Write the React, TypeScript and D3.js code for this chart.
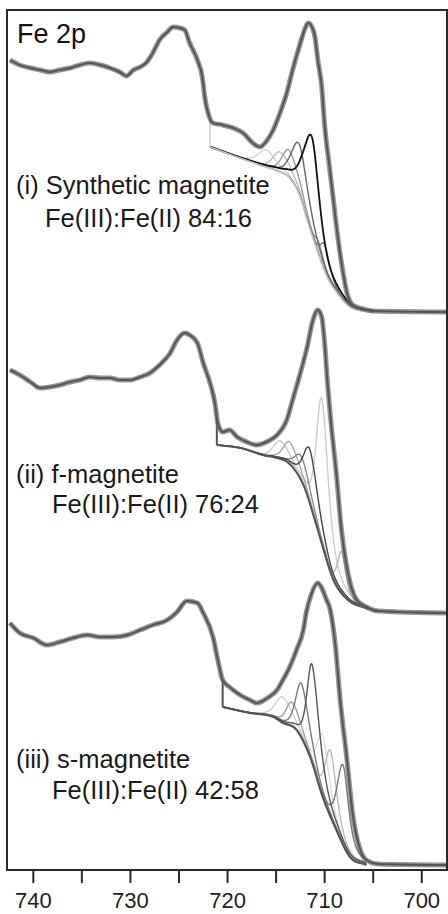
import React from 'react';
import * as d3 from 'd3';

// ---- axis ----
const energyTicks = [740, 730, 720, 710, 700];
const minorTicks = [735, 725, 715, 705];
const energyDomain = [742.71, 697.4];
const intensityDomain = [0, 860];

// ---- labels ----
const panelTitle = 'Fe 2p';
const sampleNames = ['(i) Synthetic magnetite', '(ii) f-magnetite', '(iii) s-magnetite'];
const ratioLabels = ['Fe(III):Fe(II) 84:16', 'Fe(III):Fe(II) 76:24', 'Fe(III):Fe(II) 42:58'];

// ---- measured spectra [binding energy eV, intensity a.u.] ----
const spectrumI: [number, number][] = [
  [742.4, 810], [741.4, 805], [740.3, 802], [739.3, 800], [738.3, 798], [737.3, 800],
  [736.2, 802], [735.2, 805], [734.2, 807], [733.1, 805], [732.1, 802], [731.1, 798],
  [730.4, 794], [729.7, 800], [729.0, 803], [728.3, 808], [727.7, 817], [727.0, 830],
  [726.2, 838], [725.6, 843], [724.9, 842], [724.4, 840], [723.9, 827], [723.1, 810],
  [722.6, 793], [722.3, 770], [722.0, 757], [721.5, 747], [720.5, 745], [719.4, 742],
  [718.4, 737], [717.4, 727], [716.7, 723], [715.9, 730], [715.3, 740], [714.6, 757],
  [713.9, 777], [713.3, 800], [712.5, 827], [712.0, 842], [711.7, 847], [711.3, 843],
  [711.0, 833], [710.7, 810], [710.3, 783], [710.0, 745], [709.5, 703], [709.1, 670],
  [708.7, 637], [708.2, 603], [707.7, 577], [707.1, 565], [706.0, 561], [705.0, 559],
  [697.4, 558],
];
const spectrumII: [number, number][] = [
  [742.4, 500], [741.4, 495], [740.3, 488], [739.3, 482], [738.3, 483], [737.3, 485],
  [736.2, 488], [735.2, 490], [734.2, 493], [733.1, 492], [732.1, 492], [731.1, 490],
  [730.0, 490], [729.0, 493], [728.0, 497], [727.0, 505], [725.9, 517], [725.2, 530],
  [724.4, 537], [723.9, 535], [723.1, 527], [722.5, 507], [721.8, 487], [721.3, 467],
  [721.0, 447], [720.5, 438], [719.8, 440], [719.0, 433], [718.0, 428], [717.0, 425],
  [716.0, 428], [714.9, 435], [713.9, 450], [713.3, 470], [712.5, 497], [711.8, 523],
  [711.2, 550], [710.7, 560], [710.3, 553], [710.0, 527], [709.7, 487], [709.3, 443],
  [708.8, 397], [708.3, 343], [707.6, 297], [706.7, 270], [705.7, 263], [704.5, 259],
  [697.4, 257],
];
const spectrumIII: [number, number][] = [
  [742.4, 247], [741.4, 237], [740.0, 232], [738.6, 225], [737.3, 228], [735.9, 232],
  [734.5, 235], [733.1, 233], [731.8, 233], [730.3, 235], [729.0, 240], [727.7, 245],
  [726.2, 250], [725.2, 258], [724.2, 269], [723.1, 267], [722.5, 257], [721.5, 233],
  [721.0, 210], [720.5, 190], [719.8, 183], [718.7, 175], [717.7, 170], [717.0, 167],
  [715.9, 172], [714.9, 180], [714.3, 190], [713.6, 203], [712.9, 220], [712.2, 240],
  [711.9, 257], [711.4, 275], [710.7, 287], [710.3, 282], [709.8, 270], [709.5, 263],
  [708.9, 225], [708.4, 170], [707.7, 110], [707.1, 55], [706.4, 22], [705.7, 10],
  [704.5, 6], [697.4, 5],
];

// ---- Shirley backgrounds [eV, intensity] ----
const backgroundI: [number, number][] = [
  [721.8, 723], [718.7, 712], [716.65, 705], [714.6, 698], [713.6, 692], [712.5, 673],
  [711.8, 650], [710.8, 620], [709.75, 593], [708.4, 573], [707.4, 563], [706.2, 559],
  [705.0, 558],
];
const backgroundII: [number, number][] = [
  [721.1, 425], [718.7, 422], [716.0, 414], [715.3, 413], [713.5, 405], [712.1, 383],
  [711.1, 353], [710.1, 320], [709.1, 290], [707.6, 270], [705.5, 261],
];
const backgroundIII: [number, number][] = [
  [720.5, 163], [718.7, 159], [717.7, 157], [715.3, 153], [714.3, 147], [712.9, 140],
  [711.5, 113], [710.2, 73], [708.8, 40], [707.4, 13], [705.7, 5],
];

// ---- fitted components: centre (eV), height, FWHM high-BE side, FWHM low-BE side, shade ----
const peakCentresI = [716.0, 714.6, 713.7, 712.6, 711.3, 710.6, 710.0];
const peakHeightsI = [17, 20, 27, 50, 98, 13, 27];
const peakWidthLI = [2.0, 1.7, 1.6, 1.8, 2.0, 1.0, 1.0];
const peakWidthRI = [2.2, 2.4, 2.4, 2.2, 1.8, 1.3, 1.3];
const peakShadeI = ['#d4d4d4', '#bdbdbd', '#9a9a9a', '#666666', '#111111', '#8a8a8a', '#777777'];

const peakCentresII = [714.6, 713.6, 712.4, 711.5, 710.3, 708.25];
const peakHeightsII = [18, 22, 24, 54, 145, 42];
const peakWidthLII = [1.6, 1.5, 1.5, 1.5, 1.3, 1.0];
const peakWidthRII = [2.2, 2.2, 2.2, 2.0, 1.6, 1.0];
const peakShadeII = ['#cccccc', '#a8a8a8', '#888888', '#444444', '#cdcdcd', '#b8b8b8'];

const peakCentresIII = [714.3, 713.4, 712.4, 711.3, 710.2, 709.4, 708.1];
const peakHeightsIII = [26, 24, 54, 98, 62, 66, 80];
const peakWidthLIII = [1.7, 1.4, 1.3, 1.2, 1.3, 1.3, 1.4];
const peakWidthRIII = [2.0, 2.0, 1.9, 1.8, 1.6, 1.5, 1.4];
const peakShadeIII = ['#d0d0d0', '#a0a0a0', '#7a7a7a', '#555555', '#dddddd', '#bbbbbb', '#777777'];

// ---------------------------------------------------------------
function makeMonotone(pts: [number, number][]) {
  const p = [...pts].sort((a, b) => a[0] - b[0]);
  const n = p.length;
  const xs = p.map((d) => d[0]);
  const ys = p.map((d) => d[1]);
  const dx: number[] = [];
  const m: number[] = [];
  for (let i = 0; i < n - 1; i++) {
    dx[i] = xs[i + 1] - xs[i];
    m[i] = (ys[i + 1] - ys[i]) / dx[i];
  }
  const t: number[] = new Array(n);
  t[0] = m[0];
  t[n - 1] = m[n - 2];
  for (let i = 1; i < n - 1; i++) t[i] = m[i - 1] * m[i] <= 0 ? 0 : (m[i - 1] + m[i]) / 2;
  for (let i = 0; i < n - 1; i++) {
    if (m[i] === 0) { t[i] = 0; t[i + 1] = 0; continue; }
    const a = t[i] / m[i];
    const b = t[i + 1] / m[i];
    const s = a * a + b * b;
    if (s > 9) {
      const tau = 3 / Math.sqrt(s);
      t[i] = tau * a * m[i];
      t[i + 1] = tau * b * m[i];
    }
  }
  return (x: number) => {
    if (x <= xs[0]) return ys[0];
    if (x >= xs[n - 1]) return ys[n - 1];
    let i = 0;
    while (i < n - 2 && x > xs[i + 1]) i++;
    const h = dx[i];
    const s = (x - xs[i]) / h;
    const s2 = s * s, s3 = s2 * s;
    return (2 * s3 - 3 * s2 + 1) * ys[i] + (s3 - 2 * s2 + s) * h * t[i] +
      (-2 * s3 + 3 * s2) * ys[i + 1] + (s3 - s2) * h * t[i + 1];
  };
}

// asymmetric Gaussian–Lorentzian line shape, tailing toward low binding energy
function peakShape(e: number, c: number, h: number, wl: number, wr: number) {
  const high = e >= c;
  const w = high ? wl : wr;
  const d = (e - c) / w;
  const mix = high ? 0.45 : 0.75;
  return h * ((1 - mix) * Math.exp(-4 * Math.LN2 * d * d) + mix / (1 + 4 * d * d));
}

type Spec = {
  data: [number, number][];
  bg: [number, number][];
  c: number[]; h: number[]; wl: number[]; wr: number[]; shade: string[];
  bgColor: string; bgWidth: number;
};

const spectra: Spec[] = [
  { data: spectrumI, bg: backgroundI, c: peakCentresI, h: peakHeightsI, wl: peakWidthLI, wr: peakWidthRI, shade: peakShadeI, bgColor: '#c6c6c6', bgWidth: 1.4 },
  { data: spectrumII, bg: backgroundII, c: peakCentresII, h: peakHeightsII, wl: peakWidthLII, wr: peakWidthRII, shade: peakShadeII, bgColor: '#555555', bgWidth: 2 },
  { data: spectrumIII, bg: backgroundIII, c: peakCentresIII, h: peakHeightsIII, wl: peakWidthLIII, wr: peakWidthRIII, shade: peakShadeIII, bgColor: '#555555', bgWidth: 2 },
];

const labelPos = [
  { x1: 16, y1: 194, x2: 45, y2: 227 },
  { x1: 16, y1: 483, x2: 52, y2: 513 },
  { x1: 16, y1: 768, x2: 52, y2: 799 },
];

export default function App() {
  const W = 448, H = 914;
  const left = 7, top = 10, right = 447, bottom = 870;
  const x = d3.scaleLinear().domain(energyDomain).range([left, right]);
  const y = d3.scaleLinear().domain(intensityDomain).range([bottom, top]);
  const line = d3.line<[number, number]>().x((d) => x(d[0])).y((d) => y(d[1])).curve(d3.curveMonotoneX);
  const sorted = (a: [number, number][]) => [...a].sort((p, q) => p[0] - q[0]);

  const font = 'Liberation Sans, Arial, Helvetica, sans-serif';

  return (
    <svg width={W} height={H} style={{ position: 'absolute', left: 0, top: 0, background: '#fff' }}>
      <defs>
        <clipPath id="plotclip"><rect x={left} y={top} width={right - left} height={bottom - top} /></clipPath>
      </defs>
      <rect x={0} y={0} width={W} height={H} fill="#fff" />
      <g clipPath="url(#plotclip)">
        {spectra.map((s, si) => {
          const bgF = makeMonotone(s.bg);
          const dataF = makeMonotone(s.data);
          const eStart = s.bg[0][0];
          const eEnd = s.bg[s.bg.length - 1][0];
          const grid = d3.range(eEnd, eStart + 1e-6, 0.04);
          const comps = s.c.map((c, k) => grid.map((e) => [e, bgF(e) + peakShape(e, c, s.h[k], s.wl[k], s.wr[k])] as [number, number]));
          const bgPts = grid.map((e) => [e, bgF(e)] as [number, number]);
          const order = s.c.map((_, k) => k).sort((a, b) => {
            const la = d3.hsl(s.shade[a]).l, lb = d3.hsl(s.shade[b]).l;
            return lb - la;
          });
          const dataPath = line(sorted(s.data)) || '';
          return (
            <g key={si}>
              {order.map((k) => (
                <path key={k} d={line(comps[k]) || ''} fill="none" stroke={s.shade[k]} strokeWidth={s.shade[k] === '#111111' ? 1.8 : 1.4} />
              ))}
              <line x1={x(eStart)} x2={x(eStart)} y1={y(dataF(eStart))} y2={y(bgF(eStart))} stroke={s.bgColor} strokeWidth={s.bgWidth} />
              <path d={line(bgPts) || ''} fill="none" stroke={s.bgColor} strokeWidth={s.bgWidth} />
              <path d={dataPath} fill="none" stroke="#6a6a6a" strokeOpacity={0.7} strokeWidth={5} strokeLinejoin="round" />
              <path d={dataPath} fill="none" stroke="#555555" strokeWidth={2} strokeLinejoin="round" />
            </g>
          );
        })}
      </g>
      <rect x={left} y={top} width={right - left} height={bottom - top} fill="none" stroke="#2a2a2a" strokeWidth={2} />
      {energyTicks.concat(minorTicks).map((t) => (
        <line key={'t' + t} x1={x(t)} x2={x(t)} y1={bottom} y2={bottom + 13} stroke="#2a2a2a" strokeWidth={2} />
      ))}
      {energyTicks.map((t) => (
        <text key={'l' + t} x={x(t)} y={908} textAnchor="middle" fontFamily={font} fontSize={22} fill="#222">{t}</text>
      ))}
      <text x={17} y={43} fontFamily={font} fontSize={27} fill="#111">{panelTitle}</text>
      {sampleNames.map((nm, i) => (
        <g key={nm}>
          <text x={labelPos[i].x1} y={labelPos[i].y1} fontFamily={font} fontSize={25.5} fill="#1a1a1a">{nm}</text>
          <text x={labelPos[i].x2} y={labelPos[i].y2} fontFamily={font} fontSize={25.5} fill="#1a1a1a">{ratioLabels[i]}</text>
        </g>
      ))}
    </svg>
  );
}
